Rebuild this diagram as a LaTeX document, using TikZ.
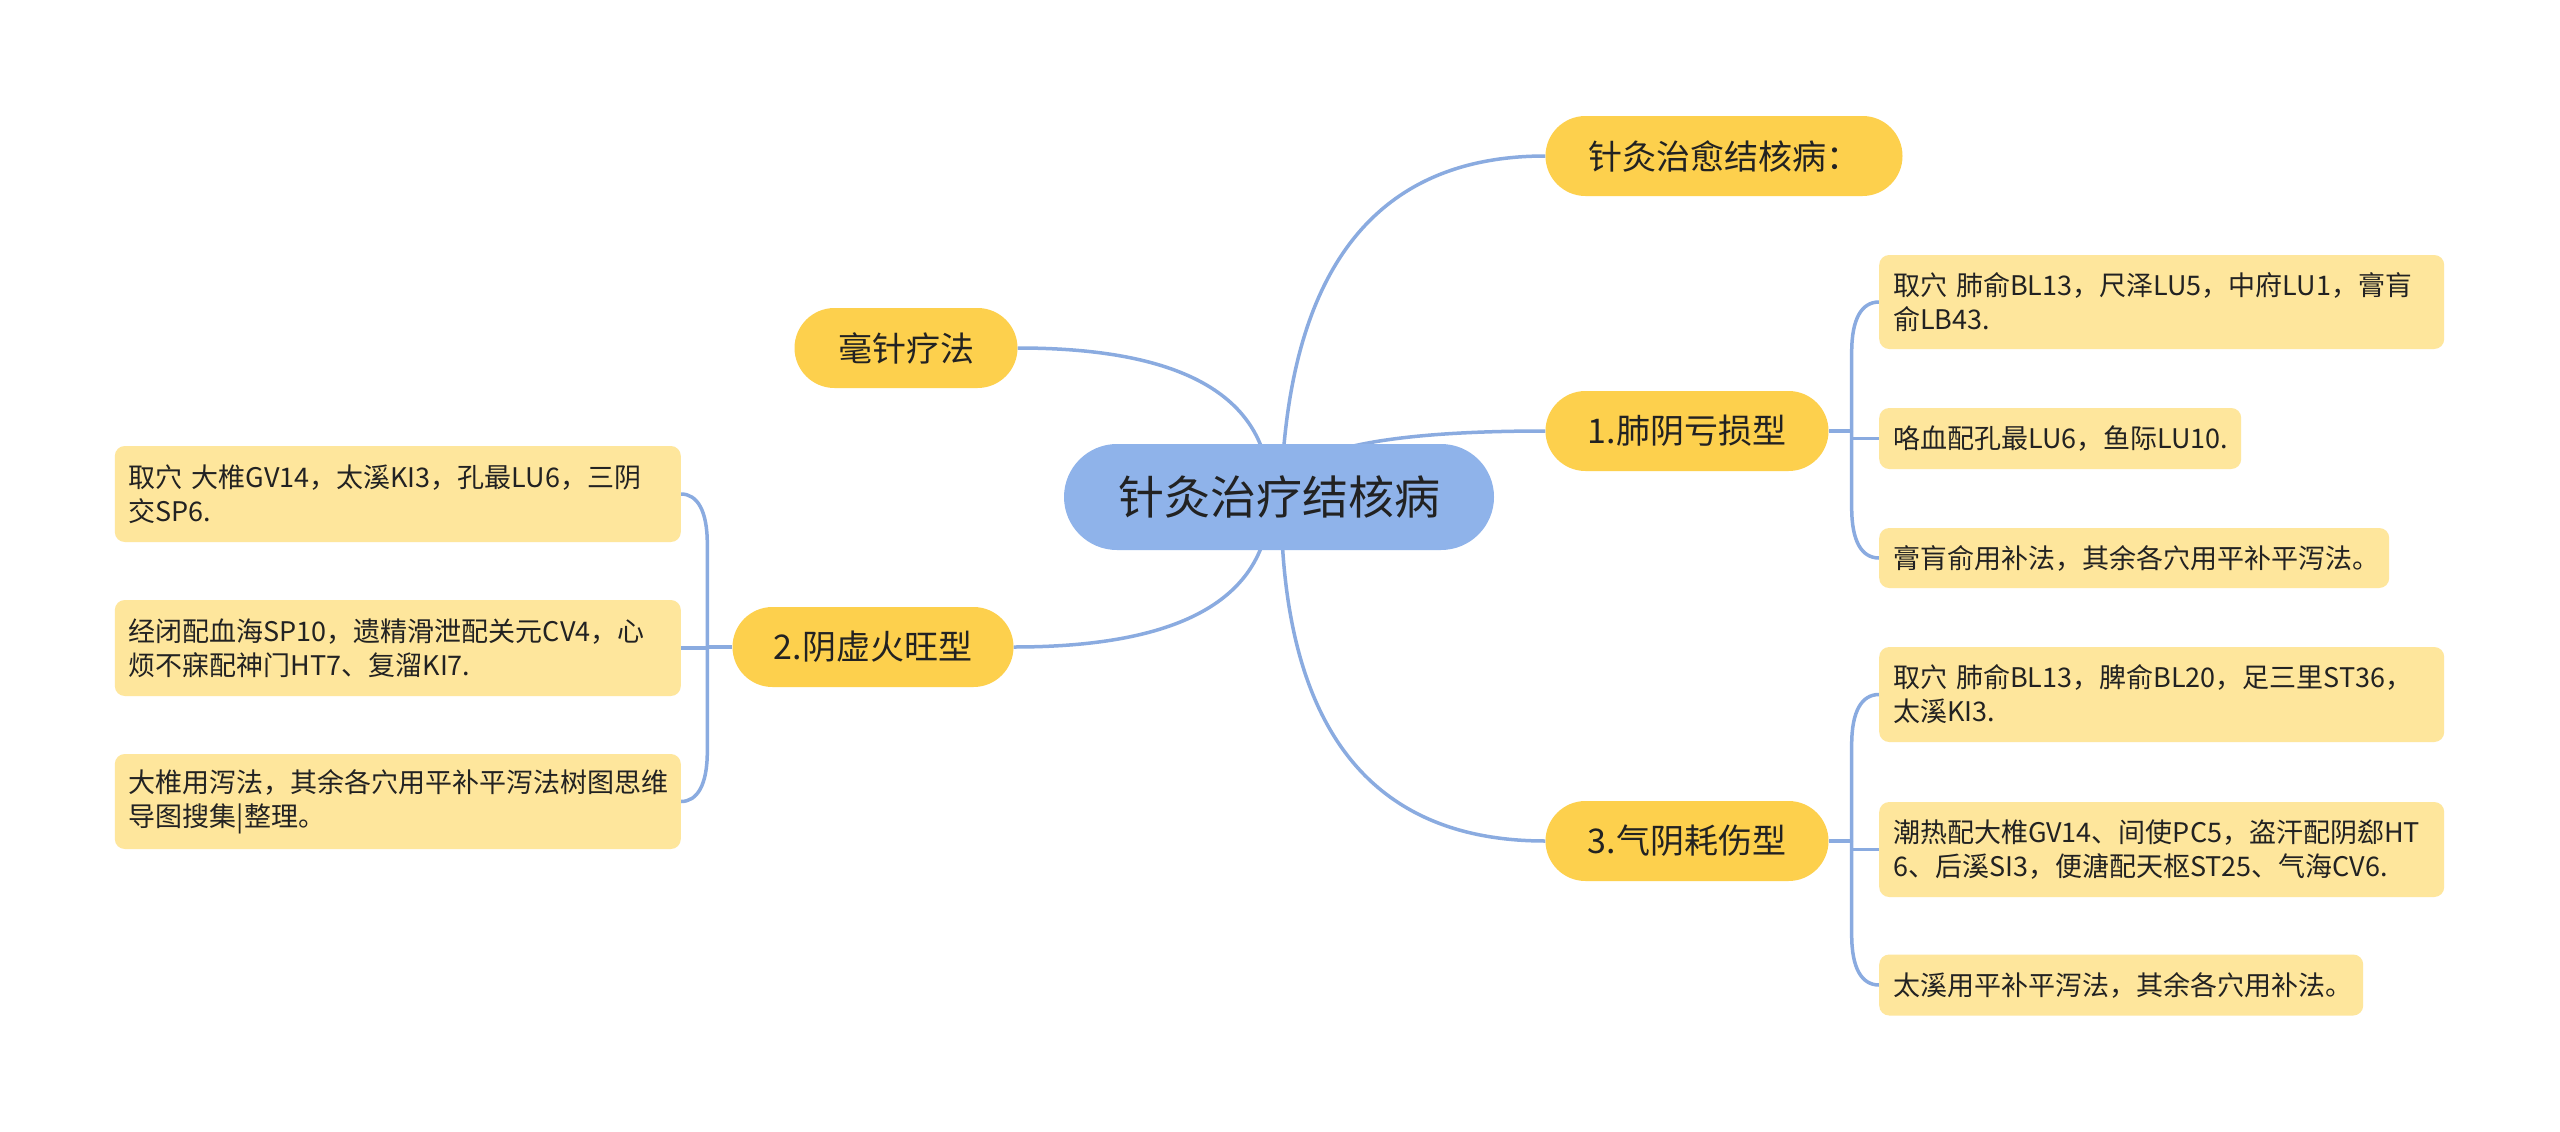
\documentclass[tikz,border=0pt]{standalone}
\usepackage{fontspec}
\setmainfont{Noto Sans CJK SC}
\usetikzlibrary{calc,backgrounds}
\definecolor{rootc}{RGB}{143,179,234}
\definecolor{mainc}{RGB}{253,208,77}
\definecolor{leafc}{RGB}{254,230,156}
\definecolor{linec}{RGB}{138,171,224}
\definecolor{txtc}{RGB}{34,34,34}
\newcommand\qcurve[3]{\draw[edge] (#1) .. controls ($(#1)!0.6667!(#2)$) and ($(#3)!0.6667!(#2)$) .. (#3);}
\newcommand\brkR[3]{\draw[edge] (#1) -- ($(#1|-#2)+(0,#3)$) .. controls ($(#1|-#2)+(0,#3/3)$) and ($(#1|-#2)+(10,0)$) .. (#2);}
\newcommand\brkL[3]{\draw[edge] (#1) -- ($(#1|-#2)+(0,#3)$) .. controls ($(#1|-#2)+(0,#3/3)$) and ($(#1|-#2)+(-10,0)$) .. (#2);}
\begin{document}
\begin{tikzpicture}[x=1pt,y=-1pt,
  rootbox/.style={rectangle, rounded corners=53pt, fill=rootc, minimum width=430pt, minimum height=106pt, inner sep=0pt, font=\fontsize{46}{52}\selectfont, text=txtc},
  mainbox/.style={rectangle, rounded corners=40pt, fill=mainc, minimum height=80pt, inner sep=0pt, font=\fontsize{34}{40}\selectfont, text=txtc},
  leafbox/.style={rectangle, rounded corners=10pt, fill=leafc, inner xsep=14pt, inner ysep=0pt, align=left, font=\fontsize{27}{34}\selectfont, text=txtc},
  edge/.style={draw=linec, line width=3.5pt},
]
\useasboundingbox (0,0) rectangle (2560,1132);

% root and main topics
\node[rootbox] (root) at (1279,497) {针灸治疗结核病};
\node[mainbox, minimum width=357pt] (t0) at (1724,156) {针灸治愈结核病：};
\node[mainbox, minimum width=223pt] (t1) at (906,348) {毫针疗法};
\node[mainbox, minimum width=283pt] (n1) at (1687,431) {1.肺阴亏损型};
\node[mainbox, minimum width=281pt] (n2) at (873,647) {2.阴虚火旺型};
\node[mainbox, minimum width=283pt] (n3) at (1687,841) {3.气阴耗伤型};

% right group 1
\node[leafbox, anchor=west, text width=537pt, minimum height=94pt] (L1a) at (1879,302) {取穴 肺俞BL13，尺泽LU5，中府LU1，膏肓\\俞LB43.};
\node[leafbox, anchor=west, text width=334pt, minimum height=61pt] (L1b) at (1879,438.5) {咯血配孔最LU6，鱼际LU10.};
\node[leafbox, anchor=west, text width=482pt, minimum height=60pt] (L1c) at (1879,558) {膏肓俞用补法，其余各穴用平补平泻法。};

% right group 3
\node[leafbox, anchor=west, text width=537pt, minimum height=95pt] (L3a) at (1879,694.5) {取穴 肺俞BL13，脾俞BL20，足三里ST36，\\太溪KI3.};
\node[leafbox, anchor=west, text width=537pt, minimum height=95pt] (L3b) at (1879,849.5) {潮热配大椎GV14、间使PC5，盗汗配阴郄HT\\6、后溪SI3，便溏配天枢ST25、气海CV6.};
\node[leafbox, anchor=west, text width=456pt, minimum height=61pt] (L3c) at (1879,985) {太溪用平补平泻法，其余各穴用补法。};

% left group 2
\node[leafbox, anchor=east, text width=538pt, minimum height=96pt] (L2a) at (681,494) {取穴 大椎GV14，太溪KI3，孔最LU6，三阴\\交SP6.};
\node[leafbox, anchor=east, text width=538pt, minimum height=96pt] (L2b) at (681,648) {经闭配血海SP10，遗精滑泄配关元CV4，心\\烦不寐配神门HT7、复溜KI7.};
\node[leafbox, anchor=east, text width=538pt, minimum height=95pt] (L2c) at (681,801.5) {大椎用泻法，其余各穴用平补平泻法树图思维\\导图搜集|整理。};

\begin{scope}[on background layer]
  \fill[white] (0,0) rectangle (2560,1132);
  \coordinate (rsR) at (1281,497);
  \coordinate (rsL) at (1270,497);
  \qcurve{rsR}{$(rsR|-t0.west)+(9,0)$}{t0.west}
  \qcurve{rsL}{rsL|-t1.east}{t1.east}
  \qcurve{rsR}{rsR|-n1.west}{n1.west}
  \qcurve{rsL}{rsL|-n2.east}{n2.east}
  \qcurve{rsR}{rsR|-n3.west}{n3.west}
  % bracket group 1
  \coordinate (J1) at ($(n1.east)+(23,0)$);
  \draw[edge] (n1.east) -- (J1);
  \draw[edge] (J1) |- (L1b.west);
  \brkR{J1}{L1a.west}{50}
  \brkR{J1}{L1c.west}{-50}
  % bracket group 3
  \coordinate (J3) at ($(n3.east)+(23,0)$);
  \draw[edge] (n3.east) -- (J3);
  \draw[edge] (J3) |- (L3b.west);
  \brkR{J3}{L3a.west}{50}
  \brkR{J3}{L3c.west}{-50}
  % bracket group 2
  \coordinate (J2) at ($(n2.west)+(-25,0)$);
  \draw[edge] (n2.west) -- (J2);
  \draw[edge] (J2) |- (L2b.east);
  \brkL{J2}{L2a.east}{50}
  \brkL{J2}{L2c.east}{-50}
\end{scope}
\end{tikzpicture}
\end{document}
